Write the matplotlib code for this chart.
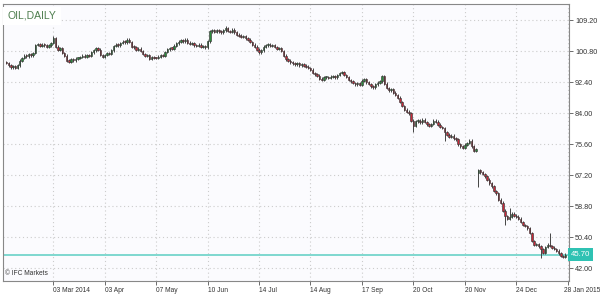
import matplotlib
matplotlib.use('Agg')
import matplotlib.pyplot as plt
import matplotlib.transforms as mtransforms

plt.rcParams['font.family'] = ['Liberation Sans Narrow', 'Liberation Sans', 'DejaVu Sans']

# cierres diarios (indice = barra)
closes = [
    97.6, 97.0, 96.4, 96.8, 96.2, 97.0, 98.2, 99.0, 99.6, 99.4,
    100.0, 99.7, 100.3, 102.5, 102.8, 102.3, 102.6, 102.4, 102.0, 102.4,
    103.0, 104.3, 102.0, 101.2, 101.6, 100.3, 99.6, 98.2, 98.0, 98.6,
    98.3, 98.8, 99.0, 99.2, 99.6, 99.3, 99.8, 99.5, 100.5, 101.0,
    101.7, 101.2, 99.8, 99.2, 99.8, 100.3, 100.0, 101.0, 102.2, 102.6,
    102.4, 103.0, 103.4, 103.2, 103.9, 103.3, 102.0, 101.8, 101.2, 101.5,
    100.9, 100.0, 99.6, 99.8, 98.8, 99.2, 99.0, 98.9, 99.3, 99.8,
    99.6, 100.6, 101.3, 101.7, 101.5, 102.3, 102.9, 103.4, 103.8, 103.5,
    103.9, 103.1, 102.7, 102.9, 102.4, 102.2, 102.6, 101.9, 102.1, 101.8,
    103.5, 106.2, 106.4, 106.0, 106.5, 106.2, 105.9, 106.4, 107.1, 106.3,
    106.0, 106.6, 105.9, 105.3, 105.0, 104.7, 104.9, 104.3, 103.9, 103.3,
    102.6, 102.0, 101.2, 100.5, 101.0, 102.0, 102.4, 102.6, 102.2, 102.5,
    101.9, 101.4, 101.6, 100.9, 99.6, 98.6, 98.2, 97.8, 97.5, 97.2,
    97.6, 97.0, 97.2, 96.9, 96.6, 96.3, 95.8, 94.9, 94.5, 94.2,
    93.4, 93.1, 93.7, 93.8, 93.5, 93.9, 94.1, 93.7, 94.3, 94.9,
    95.1, 94.3, 93.8, 93.0, 92.6, 92.2, 91.8, 92.1, 91.7, 92.8,
    93.3, 92.4, 91.9, 91.3, 91.0, 91.8, 92.3, 92.6, 94.0, 92.0,
    90.8, 90.2, 90.5, 89.6, 88.9, 88.2, 87.0, 86.0, 85.0, 84.4,
    84.0, 82.0, 80.6, 81.8, 82.0, 81.5, 82.3, 81.6, 81.0, 80.6,
    81.1, 82.0, 81.7, 80.9, 80.3, 80.0, 78.8, 78.2, 77.6, 77.9,
    77.2, 76.9, 75.6, 75.0, 74.7, 75.5, 75.9, 76.6, 75.0, 73.9,
    74.2, 68.6, 68.0, 67.6, 66.9, 66.0, 65.0, 64.2, 63.0, 62.3,
    60.6, 59.8, 57.6, 56.2, 55.4, 55.9, 56.8, 56.3, 56.0, 55.5,
    54.6, 53.8, 53.5, 52.8, 51.6, 49.4, 48.3, 48.6, 48.0, 47.2,
    46.2, 47.8, 48.4, 48.1, 47.6, 47.2, 46.8, 46.1, 45.3, 45.1,
    45.7,
]
# apertura distinta del cierre anterior (hueco de precio)
open_override = {0: 97.9, 211: 67.8}
# mechas largas
high_override = {21: 104.9, 91: 106.6, 98: 107.5, 168: 94.4, 211: 69.0, 225: 58.4, 243: 51.6}
low_override = {182: 79.0, 196: 76.6, 211: 64.0, 223: 53.8, 239: 44.8, 249: 44.9}

tick_idx = [21, 44, 67, 90, 113, 136, 159, 182, 205, 228, 251]
tick_labels = ['03 Mar 2014', '03 Apr', '07 May', '10 Jun', '14 Jul', '14 Aug',
               '17 Sep', '20 Oct', '20 Nov', '24 Dec', '28 Jan 2015']
y_ticks = [42.00, 50.40, 58.80, 67.20, 75.60, 84.00, 92.40, 100.80, 109.20]
last_price = 45.70

fig = plt.figure(figsize=(6, 3), dpi=100)
ax = fig.add_axes([0.005, 0.063, 0.943, 0.924])
ax.set_facecolor('#fbfbfe')

n = len(closes)
opens = [open_override.get(i, closes[i - 1] if i > 0 else closes[0]) for i in range(n)]
for i in range(n):
    o, c = opens[i], closes[i]
    hi = high_override.get(i, max(o, c) + 0.35)
    lo = low_override.get(i, min(o, c) - 0.35)
    col = '#2a8c3a' if c >= o else '#c8283a'
    ax.vlines(i, lo, hi, color='#444444', linewidth=0.7, zorder=2)
    h = max(abs(c - o), 0.3)
    ax.bar(i, h, bottom=min(o, c), width=0.65, color=col, edgecolor='#3a3a3a',
           linewidth=0.45, zorder=3)

ax.axhline(last_price, color='#7ed8cf', linewidth=1.4, zorder=1)

ax.set_xlim(-1.5, 251.5)
ax.set_ylim(38.56, 113.6)

ax.set_xticks(tick_idx)
ax.set_xticklabels(tick_labels, ha='left', fontsize=4.8, color='#333333')
ax.set_yticks(y_ticks)
ax.set_yticklabels(['%.2f' % v for v in y_ticks], fontsize=5.2, color='#333333')
ax.yaxis.tick_right()
ax.tick_params(axis='both', length=3, width=0.6, color='#555555', pad=1.5)
ax.grid(True, linestyle=(0, (1, 2.5)), color='#cccccc', linewidth=0.8)
ax.set_axisbelow(True)
for s in ax.spines.values():
    s.set_color('#888888')
    s.set_linewidth(0.8)

# la ultima fecha queda pegada al borde: se corre un poco a la izquierda
last_lbl = ax.get_xticklabels()[-1]
last_lbl.set_transform(last_lbl.get_transform() +
                       mtransforms.ScaledTranslation(-3 / 72, 0, fig.dpi_scale_trans))

ax.text(0.008, 0.975, 'OIL,DAILY', transform=ax.transAxes, fontsize=7.5,
        color='#4d7d4d', va='top', ha='left',
        bbox=dict(facecolor='white', edgecolor='none', pad=3))
ax.text(0.004, 0.015, '\u00a9 IFC Markets', transform=ax.transAxes, fontsize=4.8,
        color='#333333', va='bottom', ha='left')
ax.text(1.004, last_price, '45.70', transform=ax.get_yaxis_transform(),
        fontsize=5.6, color='white', va='center', ha='left',
        bbox=dict(facecolor='#2fc2b3', edgecolor='none', pad=2.2))

fig.savefig('out.png', dpi=100)
